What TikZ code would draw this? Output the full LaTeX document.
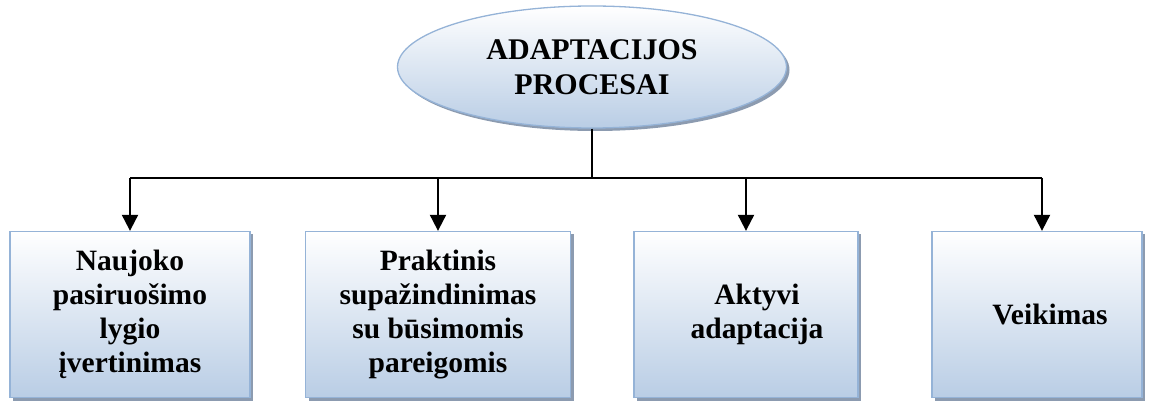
\documentclass[tikz,border=0pt]{standalone}
\usepackage{fontspec}
\setmainfont{Liberation Serif}
\usetikzlibrary{shapes.geometric,shadows,arrows.meta}

\definecolor{edgeblue}{HTML}{95B3D7}
\definecolor{fillblue}{HTML}{B9CDE5}
\definecolor{shadowgray}{HTML}{8C9BB0}

\tikzset{
  shade/.style={top color=white,bottom color=fillblue,draw=edgeblue,line width=1.3pt,
    drop shadow={shadow xshift=3pt,shadow yshift=-3pt,fill=shadowgray,opacity=1}},
  procbox/.style={shade,rectangle,inner sep=0pt,minimum height=166pt,align=center,
    font=\fontsize{29.5}{34}\selectfont\bfseries},
  arr/.style={line width=2pt,-{Triangle[width=16pt,length=16pt]}}
}

\begin{document}
\begin{tikzpicture}[x=1pt,y=-1pt]
  \useasboundingbox (0,0) rectangle (1149,403);

  \node[shade,ellipse,minimum width=389pt,minimum height=122pt,inner sep=0pt,align=center,
    font=\fontsize{30}{35}\selectfont\bfseries] (top) at (592,67) {ADAPTACIJOS\\PROCESAI};

  \node[procbox,minimum width=240pt] (b1) at (130,314.5) {Naujoko\\pasiruošimo\\lygio\\įvertinimas};
  \node[procbox,minimum width=265pt] (b2) at (438,314.5) {Praktinis\\supažindinimas\\su būsimomis\\pareigomis};
  \node[procbox,minimum width=224pt] (b3) at (746,314.5) {\hspace*{22pt}Aktyvi\\\hspace*{22pt}adaptacija};
  \node[procbox,minimum width=210pt] (b4) at (1037,314.5) {\hspace*{26pt}Veikimas};

  \coordinate (hub) at (593,178);

  \draw[line width=1.4pt] (top.south) -- (top.south |- hub);
  \draw[line width=1.8pt] (b1.north |- hub) -- ([xshift=5pt]b4.north |- hub);
  \draw[arr] (b1.north |- hub) -- (b1.north);
  \draw[arr] (b2.north |- hub) -- (b2.north);
  \draw[arr] (b3.north |- hub) -- (b3.north);
  \draw[arr] ([xshift=5pt]b4.north |- hub) -- ([xshift=5pt]b4.north);
\end{tikzpicture}
\end{document}
